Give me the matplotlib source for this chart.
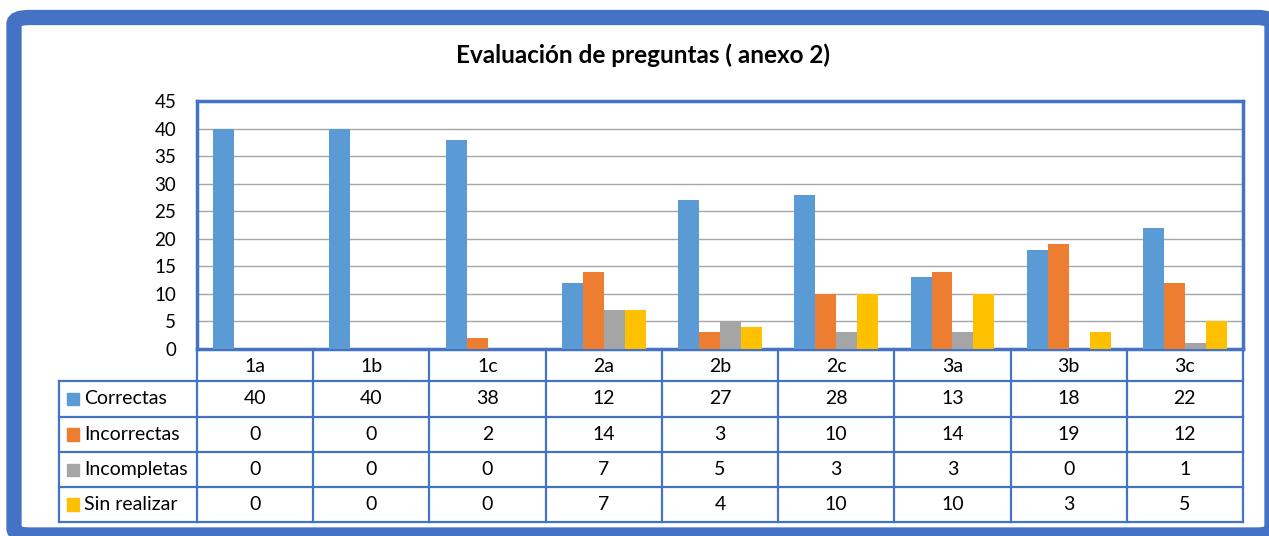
import numpy as np
import matplotlib.pyplot as plt
from matplotlib.lines import Line2D
from matplotlib.patches import FancyBboxPatch, Rectangle

plt.rcParams['font.family'] = ['Lato', 'DejaVu Sans']

# Data
categories = ['1a', '1b', '1c', '2a', '2b', '2c', '3a', '3b', '3c']
series_names = ['Correctas', 'Incorrectas', 'Incompletas', 'Sin realizar']
correctas = [40, 40, 38, 12, 27, 28, 13, 18, 22]
incorrectas = [0, 0, 2, 14, 3, 10, 14, 19, 12]
incompletas = [0, 0, 0, 7, 5, 3, 3, 0, 1]
sin_realizar = [0, 0, 0, 7, 4, 10, 10, 3, 5]
colors = ['#5B9BD5', '#ED7D31', '#A5A5A5', '#FFC000']
title = 'Evaluación de preguntas ( anexo 2)'

W, H = 1269, 536
BLUE = '#4472C4'
fig = plt.figure(figsize=(W / 100, H / 100), dpi=100)

def fx(px):
    return px / W

def fy(py):
    return 1 - py / H

# outer frame
frame = FancyBboxPatch((fx(14), fy(535)), fx(1272) - fx(14), fy(17.5) - fy(535),
                       boxstyle='round,pad=0,rounding_size=0.012',
                       transform=fig.transFigure, facecolor='white',
                       edgecolor=BLUE, linewidth=11, zorder=0)
fig.add_artist(frame)

# plot area
left, right, top, bottom = 197, 1243, 101, 349
ax = fig.add_axes([fx(left), fy(bottom), fx(right) - fx(left), fy(top) - fy(bottom)])
series = [correctas, incorrectas, incompletas, sin_realizar]
x = np.arange(len(categories))
bw = 0.18
for i, (vals, c) in enumerate(zip(series, colors)):
    ax.bar(x + (i - 1.5) * bw, vals, bw, color=c, zorder=3)
ax.set_xlim(-0.5, len(categories) - 0.5)
ax.set_ylim(0, 45)
ax.set_yticks(range(0, 46, 5))
ax.yaxis.grid(True, color='#A6A6A6', linewidth=1, zorder=0)
ax.set_xticks([])
ax.tick_params(axis='y', length=0, labelsize=13.5, pad=15)
for s in ax.spines.values():
    s.set_color(BLUE)
    s.set_linewidth(2.5)

fig.text(fx(643), fy(55), title, ha='center', va='center',
         fontsize=17.5, fontweight='bold')

# data table
col_w = (right - left) / len(categories)
row_y = [381, 417, 452, 487, 522]
lw = 1.6
def hline(y, x0, x1):
    fig.add_artist(Line2D([fx(x0), fx(x1)], [fy(y), fy(y)], color=BLUE,
                          linewidth=lw, transform=fig.transFigure))
def vline(xp, y0, y1):
    fig.add_artist(Line2D([fx(xp), fx(xp)], [fy(y0), fy(y1)], color=BLUE,
                          linewidth=lw, transform=fig.transFigure))

for y in row_y:
    hline(y, 59, right)
for j in range(len(categories) + 1):
    vline(left + j * col_w, bottom, row_y[-1])
vline(59, row_y[0], row_y[-1])

for j, cat in enumerate(categories):
    fig.text(fx(left + (j + 0.5) * col_w), fy(366), cat, ha='center',
             va='center', fontsize=14)

for r, (name, vals, c) in enumerate(zip(series_names, series, colors)):
    yc = (row_y[r] + row_y[r + 1]) / 2
    fig.add_artist(Rectangle((fx(67), fy(yc + 6)), fx(79) - fx(67),
                             fy(yc - 6) - fy(yc + 6), color=c,
                             transform=fig.transFigure))
    fig.text(fx(84), fy(yc), name, ha='left', va='center', fontsize=14)
    for j, v in enumerate(vals):
        fig.text(fx(left + (j + 0.5) * col_w), fy(yc), str(v), ha='center',
                 va='center', fontsize=14)

fig.savefig('out.png', dpi=100)
